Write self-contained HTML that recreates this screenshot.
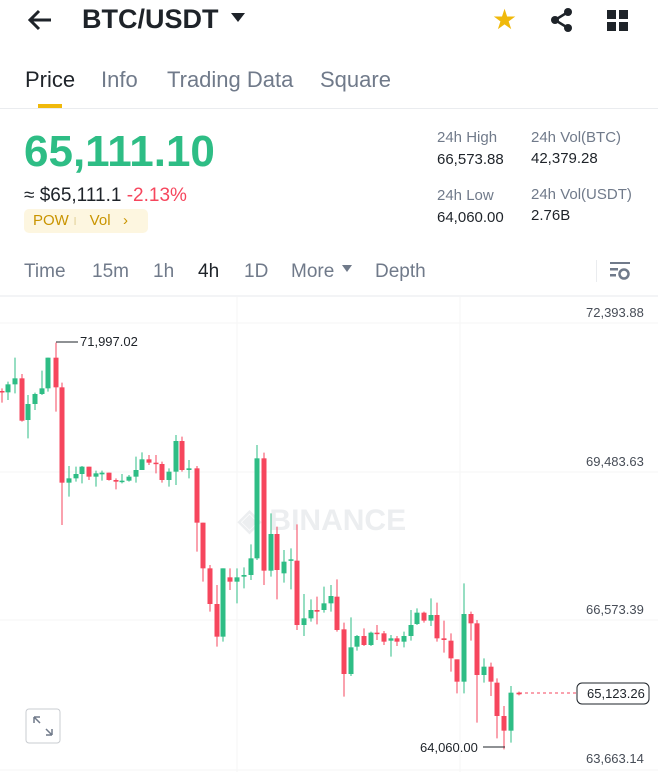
<!DOCTYPE html>
<html><head><meta charset="utf-8"><style>
body{margin:0;width:658px;height:772px;overflow:hidden;background:#fff;font-family:"Liberation Sans",sans-serif;position:relative;color:#1e2329}
.a{position:absolute;white-space:nowrap}
</style></head><body>
<svg class="a" style="left:26px;top:8px" width="28" height="24" viewBox="0 0 28 24"><path d="M13 3 L4 12 L13 21 M4 12 H25" stroke="#1e2329" stroke-width="3" fill="none"/></svg>
<div class="a" style="left:82px;top:4px;font-size:27px;font-weight:bold">BTC/USDT</div>
<svg class="a" style="left:231px;top:13px" width="14" height="10"><path d="M0 0H14L7 9Z" fill="#1e2329"/></svg>
<div class="a" style="left:492px;top:3px;font-size:28px;color:#f0b90b">★</div>
<svg class="a" style="left:550px;top:8px" width="24" height="24"><circle cx="18" cy="4" r="4" fill="#1e2329"/><circle cx="5" cy="12" r="4" fill="#1e2329"/><circle cx="18" cy="20" r="4" fill="#1e2329"/><path d="M18 4L5 12L18 20" stroke="#1e2329" stroke-width="2.5" fill="none"/></svg>
<svg class="a" style="left:607px;top:10px" width="22" height="22"><rect x="0" y="0" width="9" height="9" fill="#1e2329"/><rect x="12" y="0" width="9" height="9" fill="#1e2329"/><rect x="0" y="12" width="9" height="9" fill="#1e2329"/><rect x="12" y="12" width="9" height="9" fill="#1e2329"/></svg>
<div class="a" style="left:25px;top:67px;font-size:22px">Price</div>
<div class="a" style="left:101px;top:67px;font-size:22px;color:#707a8a">Info</div>
<div class="a" style="left:167px;top:67px;font-size:22px;color:#707a8a">Trading Data</div>
<div class="a" style="left:320px;top:67px;font-size:22px;color:#707a8a">Square</div>
<div class="a" style="left:38px;top:104px;width:24px;height:4px;background:#f0b90b"></div>
<div class="a" style="left:0;top:108px;width:658px;height:1px;background:#eaecef"></div>
<div class="a" style="left:24px;top:127px;font-size:44px;font-weight:bold;color:#2ebd85">65,111.10</div>
<div class="a" style="left:24px;top:185px;font-size:19px">≈ $65,111.1 <span style="color:#f6465d">-2.13%</span></div>
<div class="a" style="left:24px;top:209px;width:124px;height:24px;background:#fdf6e0;border-radius:5px"></div>
<div class="a" style="left:33px;top:212px;font-size:15px;color:#c99400">POW <span style="color:#e8d9a8">ı</span>&nbsp;&nbsp;&nbsp;Vol&nbsp;&nbsp;&nbsp;›</div>
<div class="a" style="left:437px;top:129px;font-size:15px;color:#707a8a">24h High</div>
<div class="a" style="left:437px;top:151px;font-size:15px">66,573.88</div>
<div class="a" style="left:531px;top:129px;font-size:15px;color:#707a8a">24h Vol(BTC)</div>
<div class="a" style="left:531px;top:150px;font-size:15px">42,379.28</div>
<div class="a" style="left:437px;top:187px;font-size:15px;color:#707a8a">24h Low</div>
<div class="a" style="left:437px;top:209px;font-size:15px">64,060.00</div>
<div class="a" style="left:531px;top:186px;font-size:15px;color:#707a8a">24h Vol(USDT)</div>
<div class="a" style="left:531px;top:207px;font-size:15px">2.76B</div>
<div class="a" style="left:24px;top:261px;font-size:19px;color:#707a8a">Time</div>
<div class="a" style="left:92px;top:261px;font-size:19px;color:#707a8a">15m</div>
<div class="a" style="left:153px;top:261px;font-size:19px;color:#707a8a">1h</div>
<div class="a" style="left:198px;top:261px;font-size:19px">4h</div>
<div class="a" style="left:244px;top:261px;font-size:19px;color:#707a8a">1D</div>
<div class="a" style="left:291px;top:261px;font-size:19px;color:#707a8a">More</div>
<svg class="a" style="left:342px;top:265px" width="10" height="8"><path d="M0 0H10L5 7Z" fill="#707a8a"/></svg>
<div class="a" style="left:375px;top:261px;font-size:19px;color:#707a8a">Depth</div>
<div class="a" style="left:596px;top:260px;width:1px;height:22px;background:#eaecef"></div>
<svg class="a" style="left:610px;top:262px" width="20" height="18"><rect x="0" y="0" width="20" height="2" fill="#707a8a"/><rect x="0" y="6" width="8" height="2.5" fill="#707a8a"/><rect x="0" y="12" width="6" height="2.5" fill="#707a8a"/><circle cx="14" cy="12" r="4.5" fill="none" stroke="#707a8a" stroke-width="2.5"/></svg>
<div class="a" style="left:0;top:295px;width:658px;height:2px;background:#f3f4f6"></div>
<svg class="a" style="left:0;top:297px" width="658" height="475" id="ch">
<line x1="0" y1="26" x2="658" y2="26" stroke="#f5f5f5"/>
<line x1="0" y1="175" x2="658" y2="175" stroke="#f5f5f5"/>
<line x1="0" y1="323" x2="658" y2="323" stroke="#f5f5f5"/>
<line x1="0" y1="473" x2="658" y2="473" stroke="#f5f5f5"/>
<line x1="237" y1="0" x2="237" y2="475" stroke="#f5f5f5"/>
<line x1="460" y1="0" x2="460" y2="475" stroke="#f5f5f5"/>
<text x="238" y="233" font-family="Liberation Sans" font-weight="bold" font-size="30" fill="#eceef0">◈ BINANCE</text>
<g id="c"></g>
<g font-family="Liberation Sans" font-size="13" fill="#474d57">
<text x="586" y="20">72,393.88</text>
<text x="586" y="169">69,483.63</text>
<text x="586" y="317">66,573.39</text>
<text x="586" y="466">63,663.14</text>
<text x="80" y="49" fill="#1e2329">71,997.02</text>
<text x="420" y="455" fill="#1e2329">64,060.00</text>
</g>
<line x1="56" y1="45" x2="78" y2="45" stroke="#1e2329"/>
<line x1="483" y1="450" x2="505" y2="450" stroke="#1e2329"/>
<line x1="519" y1="396" x2="576" y2="396" stroke="#f6465d" stroke-dasharray="3,3"/>
<rect x="577" y="386" width="72" height="21" rx="5" fill="#fff" stroke="#1e2329"/>
<text x="587" y="401" font-family="Liberation Sans" font-size="13" fill="#1e2329">65,123.26</text>
<rect x="26" y="412" width="34" height="34" rx="3" fill="#fff" stroke="#c9ccd1"/>
<path d="M34 420h6M34 420v6M34 420l6 6M52 438h-6M52 438v-6M52 438l-6-6" stroke="#707a8a" stroke-width="1.5" fill="none"/>
</svg>
<script>
var A=[[2,0,183,187,175,218,1],[8,1,163,187,155,210,1],[15,1,145,163,83,190,1],[22,0,145,272,132,275,1],[28,1,222,270,195,325,1],[35,1,192,222,188,240,1],[42,1,175,192,122,195,1],[48,1,83,175,83,185,1],[56,0,83,172,38,245,1],[62,0,172,458,158,585,1],[69,1,445,458,408,500,1],[76,1,432,445,410,455,1],[82,1,410,432,408,460,1],[89,0,410,440,410,450,1],[96,1,430,440,422,470,1],[102,1,428,433,422,452,1],[109,0,428,450,428,452,1],[116,0,450,455,445,478,1],[122,1,452,456,432,460,1],[129,1,440,452,435,455,1],[136,1,420,440,380,458,1],[142,1,388,420,367,420,1],[149,0,388,398,375,405,1],[156,0,398,402,375,430,1],[162,0,402,450,395,458,1],[169,1,425,450,415,470,1],[176,1,333,425,315,465,1],[182,0,333,420,320,425,1],[189,1,415,420,390,445,1],[197,0,415,578,408,665,1],[203,0,578,715,578,755,1],[210,0,715,822,705,845,1],[217,0,822,920,765,950,1],[223,1,715,920,715,935,1],[230,0,742,755,715,780,1],[237,1,742,755,715,820,1],[244,1,735,740,712,775,1],[251,1,685,735,643,750,1],[257,1,385,685,345,690,1],[264,0,385,722,368,765,1],[271,1,612,722,550,740,1],[277,0,612,720,590,808,1],
[284,1,395,430,360,458,2],[291,1,388,392,355,478,2],[297,0,392,585,283,600,2],[304,1,565,585,492,618,2],[311,1,540,565,508,575,2],[317,0,540,545,500,583,2],[324,1,520,540,470,548,2],[331,1,498,520,465,545,2],[337,0,500,600,448,605,2],[344,0,598,732,578,800,2],[351,1,652,732,562,738,2],[357,1,618,650,615,662,2],[364,0,618,645,595,648,2],[371,1,608,645,605,648,2],[377,0,608,612,585,630,2],[384,0,610,635,603,645,2],[391,1,625,632,615,680,2],[397,0,625,635,618,648,2],[404,1,618,635,605,652,2],[411,1,585,618,540,632,2],[417,1,548,582,535,585,2],[424,0,548,572,545,578,2],[431,1,555,572,505,588,2],[437,0,555,625,518,635,2],[444,0,625,630,572,668,2],[451,0,632,685,610,725,2],[457,0,688,755,688,790,2],[464,1,552,755,460,790,2],[471,0,552,580,545,632,2],[477,0,580,735,570,878,2],[484,1,710,735,685,758,2],[491,0,710,755,698,798,2],[497,0,758,858,745,925,2],[504,0,858,902,828,958,2],[511,1,788,902,768,938,2],[519,0,788,793,785,796,2]];
var s='';A.forEach(function(d){var o=d[6]==1?330:430,t=o+d[2]/3-297,b=o+d[3]/3-297,h=o+d[4]/3-297,l=o+d[5]/3-297,c=d[1]?'#2ebd85':'#f6465d';
s+='<line x1="'+d[0]+'" x2="'+d[0]+'" y1="'+h+'" y2="'+l+'" stroke="'+c+'" stroke-width="1"/>';
s+='<rect x="'+(d[0]-2.5)+'" y="'+t+'" width="5" height="'+Math.max(1.5,b-t)+'" fill="'+c+'"/>';});
document.getElementById('c').innerHTML=s;
</script>
</body></html>
